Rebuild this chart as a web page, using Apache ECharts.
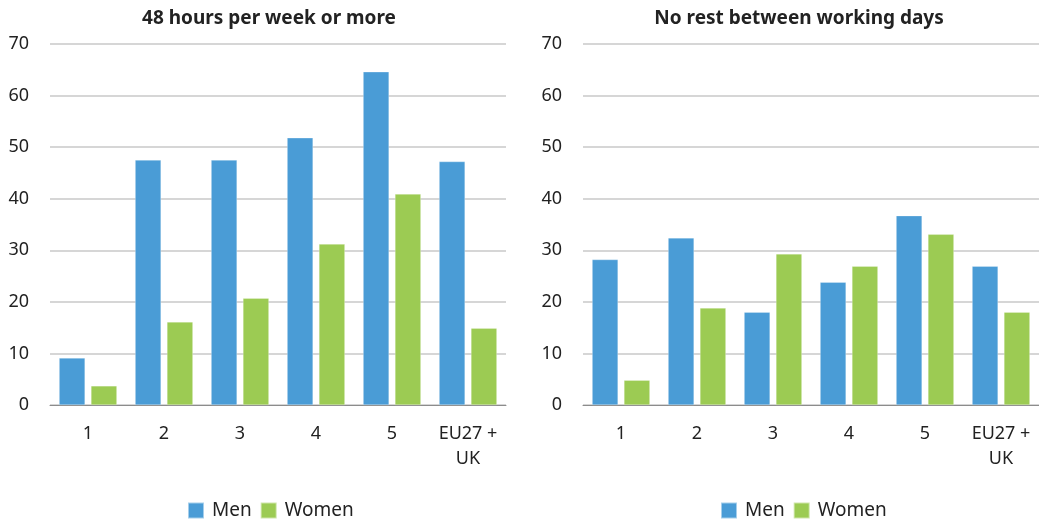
<!DOCTYPE html>
<html><head><meta charset="utf-8">
<script src="https://cdn.jsdelivr.net/npm/echarts@6/dist/echarts.min.js"></script>
<style>html,body{margin:0;padding:0;background:#fff}#c{width:1039px;height:519px}</style>
</head><body><div id="c"></div>
<script>
const categories = ['1','2','3','4','5','EU27 +\nUK'];
const titles = ['48 hours per week or more','No rest between working days'];
const seriesNames = ['Men','Women'];
const hoursMen = [9.1, 47.5, 47.5, 51.8, 64.6, 47.2];
const hoursWomen = [3.7, 16.1, 20.7, 31.2, 40.9, 14.9];
const restMen = [28.2, 32.4, 18.0, 23.8, 36.7, 26.9];
const restWomen = [4.8, 18.8, 29.3, 26.9, 33.1, 18.0];
const yMin = 0, yMax = 70, yStep = 10;

const colors = ['#4a9cd6', '#9ccb53'];
const font = 'Noto Sans';
const chart = echarts.init(document.getElementById('c'));
const grids = [{left:50, width:456, top:44, bottom:114}, {left:583, width:456, top:44, bottom:114}];
const xAxes = grids.map((g,i)=>({
  type:'category', gridIndex:i, data:categories,
  axisLine:{lineStyle:{color:'#8c8c8c', width:1}},
  axisTick:{show:false},
  axisLabel:{color:'#222', fontSize:18, fontFamily:font, margin:16, lineHeight:25, interval:0}
}));
const yAxes = grids.map((g,i)=>({
  type:'value', gridIndex:i, min:yMin, max:yMax, interval:yStep,
  axisLine:{show:false}, axisTick:{show:false},
  splitLine:{lineStyle:{color:'#c8c8c8', width:1.5}},
  axisLabel:{color:'#222', fontSize:18, fontFamily:font, margin:21}
}));
function bar(name, data, idx, c){
  return {type:'bar', name, data, xAxisIndex:idx, yAxisIndex:idx,
    barGap:'23%', barCategoryGap:'24%',
    itemStyle:{color:c, borderColor:'rgba(255,255,255,0.5)', borderWidth:0.5}};
}
const legendBase = {data:seriesNames, top:496, itemWidth:16, itemHeight:16, itemGap:8, icon:'rect',
  textStyle:{fontFamily:font, fontSize:19, color:'#222', padding:[0,0,0,3]}};
chart.setOption({
  animation:false,
  color: colors,
  title:[
    {text:titles[0], left:264, top:4, textAlign:'center', textStyle:{fontFamily:font, fontSize:19, fontWeight:'bold', color:'#222'}},
    {text:titles[1], left:794, top:4, textAlign:'center', textStyle:{fontFamily:font, fontSize:19, fontWeight:'bold', color:'#222'}}
  ],
  legend:[
    Object.assign({left:182}, legendBase),
    Object.assign({left:715}, legendBase)
  ],
  grid:grids,
  xAxis:xAxes,
  yAxis:yAxes,
  series:[
    bar(seriesNames[0], hoursMen, 0, colors[0]),
    bar(seriesNames[1], hoursWomen, 0, colors[1]),
    bar(seriesNames[0], restMen, 1, colors[0]),
    bar(seriesNames[1], restWomen, 1, colors[1])
  ]
});
</script></body></html>
